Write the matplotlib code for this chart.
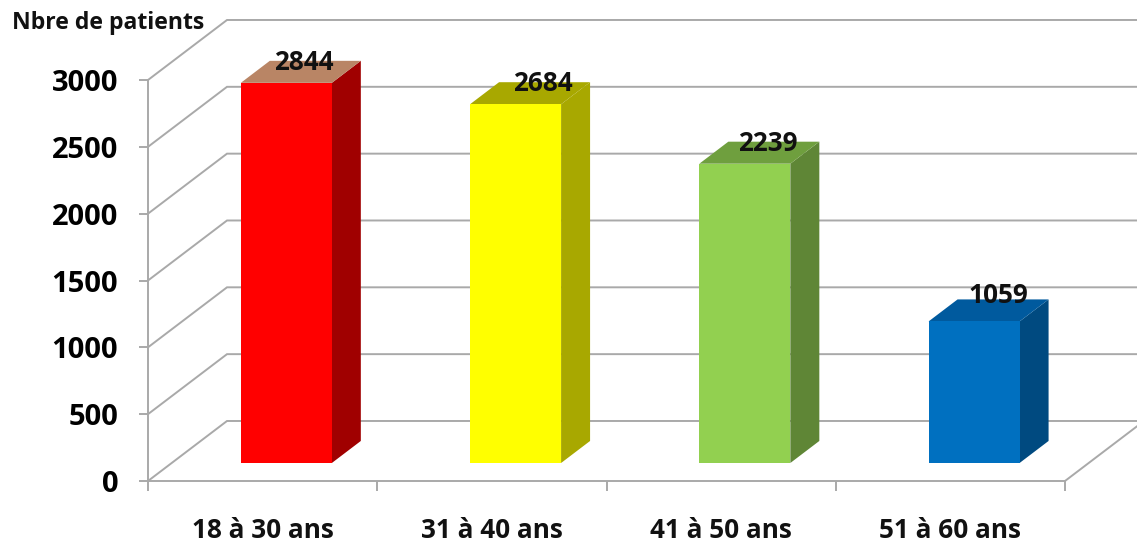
#!/usr/bin/env python3
# -*- coding: utf-8 -*-
import matplotlib
matplotlib.use("Agg")
import matplotlib.pyplot as plt
from matplotlib.patches import Polygon

categories = ["18 à 30 ans", "31 à 40 ans", "41 à 50 ans", "51 à 60 ans"]
values = [2844, 2684, 2239, 1059]
y_ticks = [0, 500, 1000, 1500, 2000, 2500, 3000]
front_colors = ["#FF0000", "#FFFF00", "#92D050", "#0070C0"]
side_colors = ["#A00000", "#A8A800", "#5F8636", "#004A80"]
top_colors = ["#B98565", "#A8A800", "#6F9F3E", "#005A9E"]

W, H = 1137, 547
GRID = "#A9A9A9"

# oblique depth, in data units per full depth of the box
DEPTH_X = 0.3446
DEPTH_Y = 449.0
BAR_W = 0.397
BAR_D0 = 0.30
BAR_D1 = 0.667

# hand nudges for the value labels, in points
label_dx = [-8, -1.5, -4.3, -3.6]
label_dy = [0, 0, 0, 3.5]


def proj(x, y, d):
    return x + d * DEPTH_X, y + d * DEPTH_Y


plt.rcParams["font.family"] = ["Open Sans", "DejaVu Sans"]
plt.rcParams["font.weight"] = "bold"

fig = plt.figure(figsize=(W / 100, H / 100), dpi=100)
# axes rectangle is the front plane of the 3d box
ax = fig.add_axes([148 / W, 1 - 481 / H, (1065 - 148) / W, (481 - 80) / H])
ax.set_xlim(0, 4)
ax.set_ylim(0, 3000)
ax.patch.set_alpha(0)
for name in ["top", "right"]:
    ax.spines[name].set_visible(False)
for name in ["left", "bottom"]:
    ax.spines[name].set_color(GRID)
    ax.spines[name].set_linewidth(1.4)

ax.set_yticks(y_ticks)
ax.set_xticks(range(5))
ax.set_xticklabels([])
ax.tick_params(axis="y", length=6.5, width=1.4, color=GRID, pad=15, labelsize=21)
ax.tick_params(axis="x", length=7.5, width=1.4, color=GRID)

# gridlines: side wall then back wall
for v in y_ticks:
    pts = [proj(0, v, 0), proj(0, v, 1), proj(4, v, 1)]
    ax.plot([p[0] for p in pts], [p[1] for p in pts], color=GRID, lw=1.4,
            clip_on=False, zorder=1, solid_joinstyle="miter")
# right edge of the floor
pts = [proj(4, 0, 0), proj(4, 0, 1)]
ax.plot([p[0] for p in pts], [p[1] for p in pts], color=GRID, lw=1.4,
        clip_on=False, zorder=1)

for i, val in enumerate(values):
    x0 = i + 0.5 - BAR_W / 2
    x1 = i + 0.5 + BAR_W / 2
    front = [proj(x0, 0, BAR_D0), proj(x1, 0, BAR_D0), proj(x1, val, BAR_D0), proj(x0, val, BAR_D0)]
    side = [proj(x1, 0, BAR_D0), proj(x1, 0, BAR_D1), proj(x1, val, BAR_D1), proj(x1, val, BAR_D0)]
    top = [proj(x0, val, BAR_D0), proj(x1, val, BAR_D0), proj(x1, val, BAR_D1), proj(x0, val, BAR_D1)]
    ax.add_patch(Polygon(side, closed=True, fc=side_colors[i], ec="none", clip_on=False, zorder=3))
    ax.add_patch(Polygon(top, closed=True, fc=top_colors[i], ec="none", clip_on=False, zorder=3))
    ax.add_patch(Polygon(front, closed=True, fc=front_colors[i], ec="none", clip_on=False, zorder=4))
    lx, ly = proj(i + 0.5, val, BAR_D1)
    ax.annotate(str(val), (lx, ly), xytext=(label_dx[i], -1 + label_dy[i]), textcoords="offset points",
                ha="center", va="center", fontsize=18.8, color="#111111", zorder=5,
                annotation_clip=False)
    ax.annotate(categories[i], (i + 0.5, 0), xytext=(0, -36), textcoords="offset points",
                ha="center", va="center", fontsize=18.8, color="#111111",
                annotation_clip=False)

fig.text(12 / W, 1 - 23 / H, "Nbre de patients", ha="left", va="center",
         fontsize=16.6, color="#111111")

fig.savefig("out.png", dpi=100)
